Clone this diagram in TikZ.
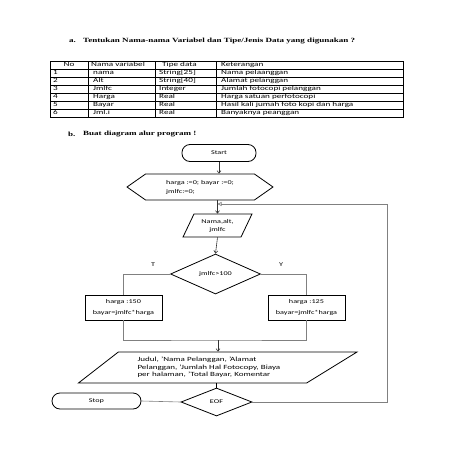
\documentclass[tikz,border=0pt]{standalone}
\usepackage{fontspec}
\setmainfont{Carlito}[FakeStretch=1.41]
\newfontfamily\headfont{Liberation Serif}[FakeStretch=1.41]
\usetikzlibrary{arrows.meta, positioning, shapes.geometric, shapes.symbols, calc}

\begin{document}
\begin{tikzpicture}[x=1pt, y=-1pt,
    heading/.style={font=\headfont\bfseries\fontsize{6.4}{7.5}\selectfont, anchor=west, inner sep=0pt},
    cell/.style={font=\fontsize{6.5}{7.5}\selectfont, anchor=west, inner sep=0pt,
      text height=4.6pt, text depth=1.4pt},
    chart/.style={draw, line width=0.8pt, font=\fontsize{5.8}{7}\selectfont, align=center, inner sep=1pt},
    terminal/.style={chart, rectangle, rounded corners=8pt, minimum width=74pt, minimum height=17pt},
    prep/.style={chart, signal, signal to=west and east, signal pointer angle=70,
      minimum width=146pt, minimum height=26pt, align=left},
    io/.style={chart, trapezium, trapezium stretches=true},
    decision/.style={chart, diamond, inner sep=0pt},
    process/.style={chart, rectangle, minimum width=77pt, minimum height=25pt},
    flow/.style={-{Straight Barb[length=2.5pt, width=4pt]}, line width=0.6pt, black!80},
    link/.style={line width=0.6pt, gray},
    tag/.style={font=\fontsize{5.8}{7}\selectfont, inner sep=0pt},
  ]
  \fill[white] (0,0) rectangle (453,453);
  \useasboundingbox (0,0) rectangle (453,453);

  % headings
  \node[heading] (labA) at (69,41) {a.};
  \node[heading] (headA) at (83,41) {Tentukan Nama-nama Variabel dan Tipe/Jenis Data yang digunakan ?};
  \node[heading] (labB) at (68,134) {b.};
  \node[heading] (headB) at (83,134) {Buat diagram alur program !};

  % table of variables
  \foreach \y in {69,77,...,109} \draw[line width=0.5pt] (50,\y) -- (403,\y);
  \foreach \x in {88,155,216} \draw[line width=0.5pt] (\x,61) -- (\x,117);
  \draw[line width=0.8pt] (50,61) rectangle (403,117);

  \node[cell, anchor=center] (hNo) at (69,65) {No};
  \node[cell] (hVar) at (91,65) {Nama variabel};
  \node[cell] (hType) at (162,65) {Tipe data};
  \node[cell] (hDesc) at (221,65) {Keterangan};
  \foreach \var/\type/\desc [count=\r] in {nama/String[25]/Nama pelaanggan,
      Alt/String[40]/Alamat pelanggan, Jmlfc/Integer/Jumlah fotocopi pelanggan,
      Harga/Real/Harga satuan perfotocopi, Bayar/Real/Hasil kali jumah foto kopi dan harga,
      Jml.i/Real/Banyaknya peanggan} {
    \node[cell] (no\r) at (53,{65+8*\r}) {\r};
    \node[cell] (var\r) at (93,{65+8*\r}) {\var};
    \node[cell] (type\r) at (159,{65+8*\r}) {\type};
    \node[cell] (desc\r) at (221,{65+8*\r}) {\desc};
  }

  % flowchart
  \node[terminal] (start) at (219,153) {Start};
  \node[prep] (init) at (200,187) {harga :=0; bayar :=0;\\[2pt]jmlfc:=0;};
  \node[io, trapezium left angle=62, trapezium right angle=118,
    minimum width=69pt, minimum height=23pt] (input) at (217.5,225.5) {Nama,alt,\\[1pt]jmlfc};
  \node[decision, minimum width=90pt, minimum height=40pt, aspect=2.25] (check) at (215.5,274) {jmlfc>100};
  \node[tag] (labT) at (153,265) {T};
  \node[tag] (labY) at (281,265) {Y};
  \node[process] (low) at (123.5,307.5) {harga :150\\[4pt]bayar=jmlfc*harga};
  \node[process] (high) at (306.5,307.5) {harga :125\\[4pt]bayar=jmlfc*harga};
  \node[io, trapezium left angle=35, trapezium right angle=151,
    minimum width=279pt, minimum height=31pt, font=\fontsize{6.4}{7.5}\selectfont,
    text width=150pt, align=left] (report) at (212.5,367.5)
    {Judul, 'Nama Pelanggan, 'Alamat\\Pelanggan, 'Jumlah Hal Fotocopy, Biaya\\per halaman, 'Total Bayar, Komentar};
  \node[decision, minimum width=71pt, minimum height=28pt, aspect=2.5] (eof) at (216.5,402) {EOF};
  \node[terminal, minimum width=89pt, minimum height=16pt] (stop) at (96.5,401) {Stop};

  \coordinate (join) at (218,340);
  \coordinate (back) at (387,204);

  \draw[flow] (start.south) -- (start.south |- init.north);
  \draw[flow] (input.north |- init.south) -- (input.north);
  \draw[flow] (input.south) -- (check.north);
  \draw[link] (check.west) -| (low.north);
  \draw[link] (check.east) -| (high.north);
  \draw[link] (low.south) |- (join) -| (high.south);
  \draw[flow] (join) -- (join |- report.north);
  \draw[line width=0.6pt] (report.south -| eof.north) -- (eof.north);
  \draw[link] (eof.west) -- (stop.east);
  \draw[link, -{Triangle[open, length=4pt, width=4pt]}] (eof.east) -| (back) -- (input.north |- back);
\end{tikzpicture}
\end{document}
